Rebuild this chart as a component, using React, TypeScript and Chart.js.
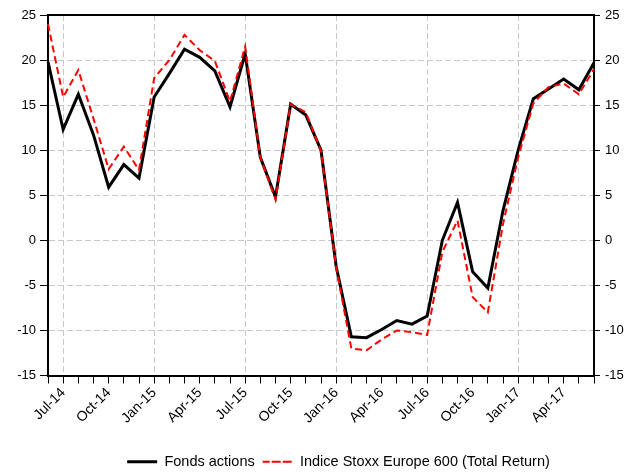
import React, { useEffect, useRef } from "react";
import { Chart, registerables } from "chart.js";

Chart.register(...registerables);

const months: string[] = [
  "Jun-14", "Jul-14", "Aug-14", "Sep-14", "Oct-14", "Nov-14", "Dec-14",
  "Jan-15", "Feb-15", "Mar-15", "Apr-15", "May-15", "Jun-15", "Jul-15",
  "Aug-15", "Sep-15", "Oct-15", "Nov-15", "Dec-15", "Jan-16", "Feb-16",
  "Mar-16", "Apr-16", "May-16", "Jun-16", "Jul-16", "Aug-16", "Sep-16",
  "Oct-16", "Nov-16", "Dec-16", "Jan-17", "Feb-17", "Mar-17", "Apr-17",
  "May-17", "Jun-17",
];

const shownLabels: string[] = [
  "Jul-14", "Oct-14", "Jan-15", "Apr-15", "Jul-15", "Oct-15",
  "Jan-16", "Apr-16", "Jul-16", "Oct-16", "Jan-17", "Apr-17",
];

const gridMonths: string[] = ["Jul-14", "Jan-15", "Jul-15", "Jan-16", "Jul-16", "Jan-17"];

const fondsActions: number[] = [
  19.8, 12.3, 16.2, 11.7, 5.9, 8.4, 6.9,
  15.9, 18.5, 21.2, 20.3, 18.8, 14.8, 20.7,
  9.2, 4.8, 15.1, 13.9, 10.0, -2.9, -10.7,
  -10.8, -9.9, -8.9, -9.3, -8.4, 0.0, 4.2,
  -3.5, -5.3, 3.3, 10.0, 15.7, 16.8, 17.9,
  16.7, 19.7,
];

const stoxx600: number[] = [
  24.0, 15.9, 18.9, 13.5, 7.9, 10.4, 7.8,
  18.0, 20.0, 22.8, 21.1, 19.9, 15.4, 21.5,
  9.2, 4.5, 15.1, 14.2, 9.9, -3.0, -12.0,
  -12.2, -11.0, -10.0, -10.2, -10.5, -1.3, 2.2,
  -6.3, -8.0, 1.8, 9.2, 15.2, 17.0, 17.4,
  16.2, 19.0,
];

const seriesNames: string[] = ["Fonds actions", "Indice Stoxx Europe 600 (Total Return)"];

const Y_MIN = -15;
const Y_MAX = 25;
const Y_STEP = 5;

const FONT = "'Liberation Sans', Arial, sans-serif";

export default function App() {
  const ref = useRef<HTMLCanvasElement | null>(null);

  useEffect(() => {
    if (!ref.current) return;

    const framePlugin = {
      id: "frame",
      afterLayout(chart: any) {
        const lg = chart.legend;
        if (lg) {
          lg.left += 17;
          lg.right += 17;
          lg.top += 6;
          lg.bottom += 6;
        }
      },
      afterDatasetsDraw(chart: any) {
        const { ctx, chartArea } = chart;
        ctx.save();
        ctx.strokeStyle = "#000";
        ctx.lineWidth = 2;
        ctx.beginPath();
        ctx.moveTo(chartArea.left, chartArea.top);
        ctx.lineTo(chartArea.right, chartArea.top);
        ctx.stroke();
        ctx.restore();
      },
    };

    const chart = new Chart(ref.current, {
      type: "line",
      data: {
        labels: months,
        datasets: [
          {
            label: seriesNames[0],
            data: fondsActions,
            borderColor: "#000000",
            backgroundColor: "rgba(0,0,0,0)",
            borderWidth: 3,
            pointRadius: 0,
            tension: 0,
            order: 1,
          },
          {
            label: seriesNames[1],
            data: stoxx600,
            borderColor: "#ff0000",
            backgroundColor: "rgba(0,0,0,0)",
            borderWidth: 2,
            borderDash: [7, 4],
            pointRadius: 0,
            tension: 0,
            order: 0,
          },
        ],
      },
      options: {
        responsive: false,
        animation: false,
        layout: { padding: { top: 15, bottom: 0, left: 0, right: 0 } },
        plugins: {
          tooltip: { enabled: false },
          legend: {
            position: "bottom",
            labels: {
              sort: (a: any, b: any) => a.datasetIndex - b.datasetIndex,
              boxWidth: 30,
              boxHeight: 0,
              padding: 8,
              color: "#000",
              font: { family: FONT, size: 14.5 },
            },
          },
        },
        scales: {
          x: {
            type: "category",
            offset: false,
            afterFit: (s: any) => {
              s.height = 65;
            },
            border: { display: true, color: "#000", width: 2, dash: [6, 3] },
            grid: {
              display: true,
              drawOnChartArea: true,
              drawTicks: true,
              tickLength: 8,
              tickColor: "#000",
              tickWidth: 1,
              lineWidth: 1,
              color: (c: any) =>
                gridMonths.includes(months[c.index]) ? "#c8c8c8" : "rgba(0,0,0,0)",
            },
            ticks: {
              autoSkip: false,
              maxRotation: 45,
              minRotation: 45,
              padding: 1,
              color: "#000",
              font: { family: FONT, size: 14 },
              callback: (_v: any, i: number) =>
                shownLabels.includes(months[i]) ? months[i] : "",
            },
          },
          y: {
            type: "linear",
            position: "left",
            min: Y_MIN,
            max: Y_MAX,
            afterFit: (s: any) => {
              s.width = 48;
            },
            border: { display: true, color: "#000", width: 2, dash: [6, 3] },
            grid: {
              drawOnChartArea: true,
              drawTicks: true,
              tickLength: 8,
              tickColor: "#000",
              tickWidth: 1,
              lineWidth: 1,
              color: "#c8c8c8",
            },
            ticks: {
              stepSize: Y_STEP,
              padding: 4,
              color: "#000",
              font: { family: FONT, size: 13 },
            },
          },
          y2: {
            type: "linear",
            position: "right",
            min: Y_MIN,
            max: Y_MAX,
            afterFit: (s: any) => {
              s.width = 49;
            },
            border: { display: true, color: "#000", width: 2 },
            grid: {
              drawOnChartArea: false,
              drawTicks: true,
              tickLength: 6,
              tickColor: "#000",
              tickWidth: 1,
            },
            ticks: {
              stepSize: Y_STEP,
              padding: 5,
              color: "#000",
              font: { family: FONT, size: 13 },
            },
          },
        },
      },
      plugins: [framePlugin],
    } as any);

    return () => chart.destroy();
  }, []);

  return (
    <div style={{ position: "fixed", left: 0, top: 0, width: 643, height: 473, background: "#fff" }}>
      <canvas ref={ref} width={643} height={473} style={{ display: "block" }} />
    </div>
  );
}
